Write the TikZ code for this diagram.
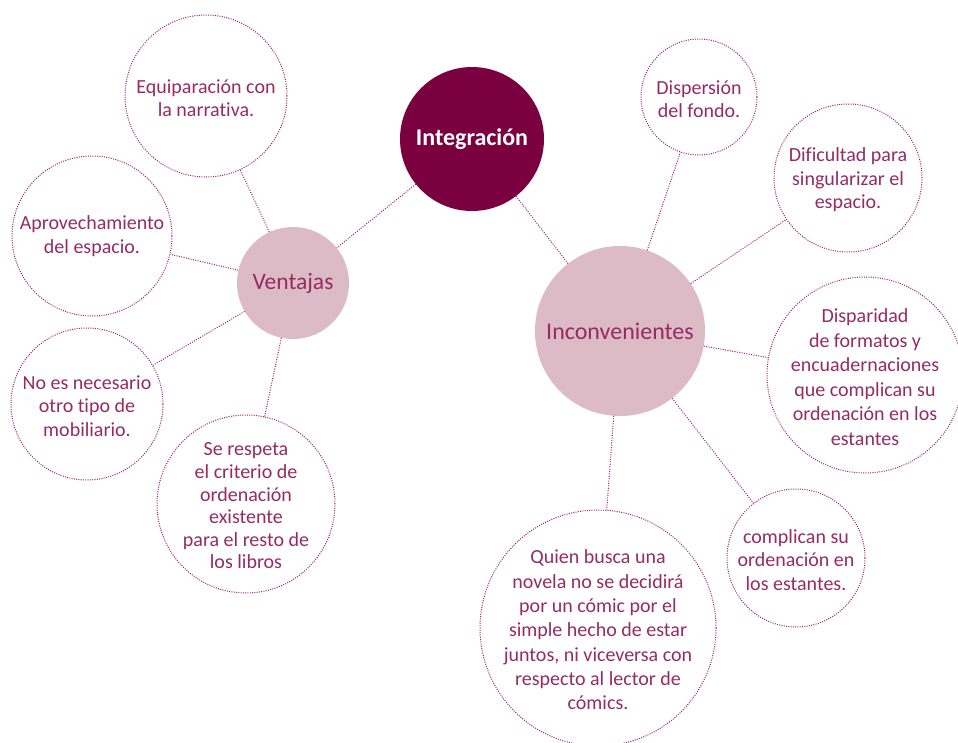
\documentclass[tikz,border=0pt]{standalone}
\usepackage{fontspec}
\setmainfont{Carlito}[Ligatures=NoCommon]
\definecolor{hubdark}{HTML}{7B003F}
\definecolor{hubpink}{HTML}{DDBBC6}
\definecolor{inkrose}{HTML}{952B62}
\definecolor{dotrose}{HTML}{9A2463}
\tikzset{
  mainhub/.style={circle, fill=hubdark, inner sep=0pt},
  subhub/.style={circle, fill=hubpink, inner sep=0pt},
  leaf/.style={circle, draw=dotrose, line width=1pt, dash pattern=on 1pt off 1.3pt, inner sep=0pt},
  leaftext/.style={text=inkrose, align=center, yshift=-2pt, font=\fontsize{20}{23.5}\selectfont},
  link/.style={draw=dotrose, line width=1pt, dash pattern=on 1pt off 1.4pt},
}
\begin{document}
\begin{tikzpicture}[x=1pt, y=-1pt]
\useasboundingbox (0,0) rectangle (958,742);

% hubs
\node[mainhub, minimum size=144pt] (integ) at (472,139)
  {\textcolor{white}{\fontsize{24}{27}\selectfont\bfseries Integración}};
\node[subhub, minimum size=112pt] (vent) at (293,283)
  {\textcolor{inkrose}{\fontsize{23.5}{26}\selectfont Ventajas}};
\node[subhub, minimum size=170pt] (incon) at (620,331)
  {\textcolor{inkrose}{\fontsize{24}{27}\selectfont Inconvenientes}};

% leaves: advantages
\node[leaf, minimum size=162pt] (equip) at (206,96) {};
\node[leaftext] (equip-t) at (equip) {Equiparación con\\la narrativa.};
\node[leaf, minimum size=160pt] (aprov) at (92,236) {};
\node[leaftext, yshift=2pt] (aprov-t) at (aprov) {Aprovechamiento\\del espacio.};
\node[leaf, minimum size=152pt] (mobil) at (87,404) {};
\node[leaftext] (mobil-t) at (mobil) {No es necesario\\otro tipo de\\mobiliario.};
\node[leaf, minimum size=178pt] (crit) at (246,504) {};
\node[leaftext, font=\fontsize{20}{22.6}\selectfont] (crit-t) at (crit)
  {Se respeta\\el criterio de\\ordenación\\existente\\para el resto de\\los libros};

% leaves: drawbacks
\node[leaf, minimum size=116pt] (disp) at (699,97) {};
\node[leaftext] (disp-t) at (disp) {Dispersión\\del fondo.};
\node[leaf, minimum size=148pt] (dific) at (848,178) {};
\node[leaftext] (dific-t) at (dific) {Dificultad para\\singularizar el\\espacio.};
\node[leaf, minimum size=196pt] (dispar) at (865,375) {};
\node[leaftext, font=\fontsize{20}{24.5}\selectfont] (dispar-t) at (dispar)
  {Disparidad\\de formatos y\\encuadernaciones\\que complican su\\ordenación en los\\estantes};
\node[leaf, minimum size=138pt] (compl) at (796,558) {};
\node[leaftext] (compl-t) at (compl) {complican su\\ordenación en\\los estantes.};
\node[leaf, minimum size=236pt] (quien) at (598,628) {};
\node[leaftext, font=\fontsize{20}{24.3}\selectfont] (quien-t) at (quien)
  {Quien busca una\\novela no se decidirá\\por un cómic por el\\simple hecho de estar\\juntos, ni viceversa con\\respecto al lector de\\cómics.};

% connectors
\draw[link] (integ) -- (vent);
\draw[link] (integ) -- (incon);
\draw[link] (vent) -- (equip);
\draw[link] (vent) -- (aprov);
\draw[link] (vent) -- (mobil);
\draw[link] (vent) -- (crit);
\draw[link] (incon) -- (disp);
\draw[link] (incon) -- (dific);
\draw[link] (incon) -- (dispar);
\draw[link] (incon) -- (compl);
\draw[link] (incon) -- (quien);
\end{tikzpicture}
\end{document}
